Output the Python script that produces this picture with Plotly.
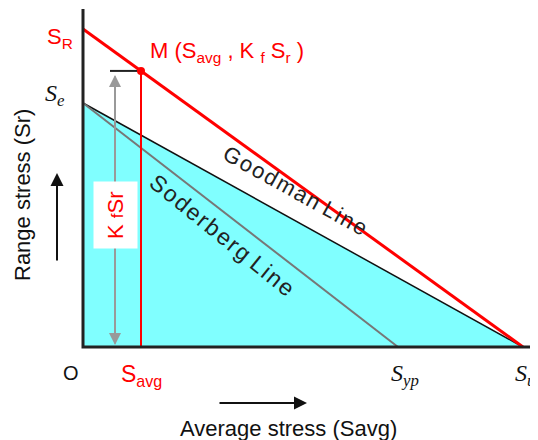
import plotly.graph_objects as go

# Stress values (arbitrary units)
S_R = 318.0      # intercept of red line on range axis
S_e = 244.0      # endurance limit
S_u = 440.0      # ultimate strength
S_yp = 315.0     # yield point
S_avg = 58.0     # average stress of point M
Y_AXIS_TOP = 338.0
X_AXIS_END = 455.0

KfSr = S_R * (1 - S_avg / S_u)

goodman_x = [0, S_u]
goodman_y = [S_e, 0]
soderberg_x = [0, S_yp]
soderberg_y = [S_e, 0]
red_x = [0, S_u]
red_y = [S_R, 0]


def spaced(s):
    return "&#8202;".join(s)


fig = go.Figure()

fig.add_trace(go.Scatter(x=[0, S_u, 0, 0], y=[S_e, 0, 0, S_e], fill="toself",
                         fillcolor="#80FFFF", line=dict(width=0), mode="lines",
                         hoverinfo="skip"))
fig.add_trace(go.Scatter(x=goodman_x, y=goodman_y, mode="lines",
                         line=dict(color="#111111", width=1.5)))
fig.add_trace(go.Scatter(x=soderberg_x, y=soderberg_y, mode="lines",
                         line=dict(color="#777777", width=2)))
fig.add_trace(go.Scatter(x=red_x, y=red_y, mode="lines",
                         line=dict(color="#FF0000", width=3)))
fig.add_trace(go.Scatter(x=[S_avg, S_avg], y=[0, KfSr], mode="lines",
                         line=dict(color="#FF0000", width=2)))
fig.add_trace(go.Scatter(x=[S_avg - 31, S_avg], y=[KfSr, KfSr], mode="lines",
                         line=dict(color="#222222", width=2)))
fig.add_trace(go.Scatter(x=[0, 0, X_AXIS_END], y=[Y_AXIS_TOP, 0, 0], mode="lines",
                         line=dict(color="#222222", width=3)))
fig.add_trace(go.Scatter(x=[S_avg], y=[KfSr], mode="markers",
                         marker=dict(color="#FF0000", size=8)))

ann = []
arrow_x = S_avg - 26
ann.append(dict(x=arrow_x, y=KfSr - 4, ax=arrow_x, ay=2, xref="x", yref="y",
                axref="x", ayref="y", showarrow=True, arrowhead=2, arrowsize=1.2,
                arrowwidth=2, arrowcolor="#999999", text=""))
ann.append(dict(x=arrow_x, y=2, ax=arrow_x, ay=KfSr - 4, xref="x", yref="y",
                axref="x", ayref="y", showarrow=True, arrowhead=2, arrowsize=1.2,
                arrowwidth=2, arrowcolor="#999999", text=""))
ann.append(dict(x=arrow_x, y=132, xref="x", yref="y", showarrow=False,
                text="K <span style='font-size:17px'>f</span>Sr", textangle=-90,
                bgcolor="white", borderpad=9,
                font=dict(color="#FF0000", size=22, family="Liberation Sans")))
red = dict(color="#FF0000", size=22, family="Liberation Sans")
ann.append(dict(x=-23, y=309, xref="x", yref="y", showarrow=False,
                text="S<sub>R</sub>", font=red))
ann.append(dict(x=65, y=295, xref="x", yref="y", showarrow=False, xanchor="left",
                text="M (S<sub>avg</sub> , K <sub>f</sub> S<sub>r</sub> )", font=red))
ann.append(dict(x=S_avg, y=-28, xref="x", yref="y", showarrow=False,
                text="S<sub>avg</sub>", font=dict(color="#FF0000", size=23,
                                                  family="Liberation Sans")))
serif = dict(color="#111111", size=24, family="Liberation Serif")
ann.append(dict(x=-28, y=252, xref="x", yref="y", showarrow=False,
                text="<i>S<sub>e</sub></i>", font=serif))
ann.append(dict(x=S_yp + 7, y=-28, xref="x", yref="y", showarrow=False,
                text="<i>S<sub>yp</sub></i>", font=serif))
ann.append(dict(x=S_u - 10, y=-28, xref="x", yref="y", showarrow=False,
                xanchor="left", text="<i>S<sub>u</sub></i>", font=serif))
blk = dict(color="#111111", size=22, family="Liberation Sans")
ann.append(dict(x=-12, y=-26, xref="x", yref="y", showarrow=False, text="O",
                font=dict(color="#111111", size=20, family="Liberation Sans")))
ann.append(dict(x=205, y=-81, xref="x", yref="y", showarrow=False,
                text="Average stress (Savg)", font=blk))
ann.append(dict(x=-61, y=152, xref="x", yref="y", showarrow=False,
                text="Range stress (Sr)", textangle=-90, font=blk))
ann.append(dict(x=224, y=-56, ax=135, ay=-56, xref="x", yref="y", axref="x",
                ayref="y", showarrow=True, arrowhead=2, arrowsize=1.3,
                arrowwidth=2, arrowcolor="#111111", text=""))
ann.append(dict(x=-26, y=174, ax=-26, ay=85, xref="x", yref="y", axref="x",
                ayref="y", showarrow=True, arrowhead=2, arrowsize=1.3,
                arrowwidth=2, arrowcolor="#111111", text=""))
ann.append(dict(x=212, y=157, xref="x", yref="y", showarrow=False,
                text=spaced("Goodman") + " " + spaced("Line"), textangle=29,
                font=dict(color="#222222", size=22, family="Liberation Sans")))
ann.append(dict(x=139, y=112, xref="x", yref="y", showarrow=False,
                text=spaced("Soderberg") + " " + spaced("Line"), textangle=39,
                font=dict(color="#222222", size=23, family="Liberation Sans")))

fig.update_layout(
    width=530, height=432, margin=dict(l=0, r=0, t=0, b=0),
    paper_bgcolor="white", plot_bgcolor="white", showlegend=False,
    xaxis=dict(range=[-75, 455], visible=False, fixedrange=True),
    yaxis=dict(range=[-93, 339], visible=False, fixedrange=True),
    annotations=ann,
)
fig.write_html("out.html")
